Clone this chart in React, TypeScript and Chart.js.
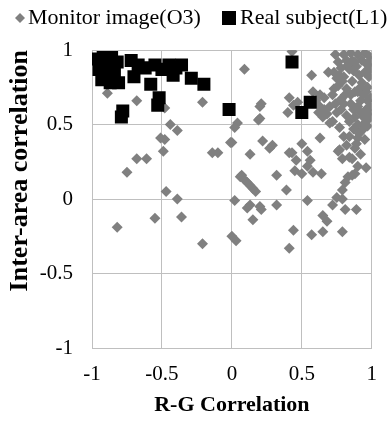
import React, { useEffect, useRef } from "react";
import { Chart, registerables } from "chart.js";

Chart.register(...registerables);

const seriesNames = ["Monitor image(O3)", "Real subject(L1)"];
const xTitle = "R-G Correlation";
const yTitle = "Inter-area correlation";
const tickValues = [-1, -0.5, 0, 0.5, 1];
const xTickLabels = ["-1", "-0.5", "0", "0.5", "1"];
const yTickLabels = ["-1", "-0.5", "0", "0.5", "1"];

// Monitor image (O3): gray diamonds, [R-G correlation, inter-area correlation]
const monitorLeft: [number, number][] = [
  [-0.89, 0.71], [-0.68, 0.66], [-0.21, 0.65], [-0.48, 0.61], [0.02, 0.48],
  [-0.44, 0.5], [-0.39, 0.46], [-0.51, 0.41], [-0.48, 0.4], [-0.49, 0.32],
  [-0.68, 0.27], [-0.61, 0.27], [-0.75, 0.18], [-0.14, 0.31], [-0.1, 0.31],
  [-0.01, 0.38], [0.06, 0.15], [-0.47, 0.05], [-0.39, 0.0], [0.02, -0.01],
  [-0.55, -0.13], [-0.36, -0.12], [-0.82, -0.19], [-0.21, -0.3], [0.0, -0.25],
  [0.03, -0.28],
];
const monitorMiddle: [number, number][] = [
  [0.09, 0.87], [0.21, 0.64], [0.2, 0.62], [0.2, 0.54], [0.04, 0.51],
  [0.19, 0.53], [0.0, 0.38], [0.22, 0.39], [0.27, 0.34], [0.29, 0.36],
  [0.13, 0.3], [0.32, 0.16], [0.07, 0.16], [0.09, 0.13], [0.11, 0.11],
  [0.13, 0.09], [0.15, 0.07], [0.17, 0.05], [0.13, -0.04], [0.2, -0.05],
  [0.11, -0.06], [0.21, -0.07], [0.15, -0.14], [0.32, -0.04], [0.44, -0.21],
  [0.41, -0.33], [0.39, 0.06],
];
const monitorLowerRight: [number, number][] = [
  [0.54, -0.01], [0.57, -0.24], [0.65, -0.22], [0.65, -0.11], [0.68, -0.15],
  [0.72, -0.04], [0.79, 0.0], [0.81, -0.07], [0.89, -0.07], [0.79, -0.22],
  [0.75, 0.01], [0.79, 0.06], [0.81, 0.11], [0.83, 0.15], [0.86, 0.16],
  [0.88, 0.17], [0.96, 0.21], [0.43, 0.31], [0.41, 0.31], [0.46, 0.26],
  [0.54, 0.32], [0.56, 0.26], [0.45, 0.19], [0.5, 0.17], [0.58, 0.18],
  [0.64, 0.17], [0.54, 0.22], [0.5, 0.37], [0.63, 0.41], [0.7, 0.51],
  [0.77, 0.48], [0.76, 0.32], [0.79, 0.27], [0.84, 0.28], [0.86, 0.27],
  [0.77, 0.33], [0.84, 0.42], [0.88, 0.34], [0.89, 0.37], [0.9, 0.41],
  [0.91, 0.44], [0.94, 0.5], [0.97, 0.49], [0.93, 0.46], [0.87, 0.47],
  [0.8, 0.42], [0.82, 0.36], [0.95, 0.4], [0.92, 0.3], [0.9, 0.22],
];
const monitorUpperRight: [number, number][] = [
  [0.43, 0.99], [0.57, 0.83], [0.69, 0.85], [0.41, 0.68], [0.4, 0.58],
  [0.47, 0.65], [0.44, 0.63], [0.58, 0.72], [0.63, 0.7], [0.66, 0.68],
  [0.62, 0.63], [0.66, 0.6], [0.65, 0.55], [0.72, 0.52],
  [0.8, 0.97], [0.85, 0.98], [0.9, 0.97], [0.95, 0.98], [0.98, 0.96],
  [0.82, 0.93], [0.88, 0.92], [0.93, 0.93], [0.97, 0.9], [0.78, 0.88],
  [0.84, 0.87], [0.95, 0.85], [0.98, 0.82], [0.8, 0.82], [0.86, 0.79],
  [0.93, 0.78], [0.97, 0.75], [0.76, 0.76], [0.82, 0.74], [0.88, 0.72],
  [0.94, 0.7], [0.99, 0.68], [0.72, 0.7], [0.78, 0.67], [0.85, 0.64],
  [0.9, 0.62], [0.96, 0.6], [0.7, 0.62], [0.75, 0.58], [0.82, 0.56],
  [0.88, 0.55], [0.94, 0.55], [0.97, 0.66], [0.98, 0.58], [0.96, 0.52],
  [0.78, 0.6], [0.92, 0.66], [0.74, 0.97], [0.76, 0.92], [0.73, 0.85],
  [0.75, 0.81], [0.73, 0.74], [0.79, 0.79], [0.83, 0.9], [0.87, 0.86],
  [0.91, 0.83], [0.89, 0.89], [0.99, 0.93], [0.99, 0.87], [0.92, 0.75],
  [0.9, 0.72], [0.85, 0.7], [0.81, 0.7], [0.8, 0.64], [0.87, 0.6],
  [0.92, 0.58], [0.99, 0.62], [0.99, 0.55], [0.84, 0.52], [0.9, 0.5],
  [0.68, 0.57], [0.62, 0.58], [0.6, 0.66], [0.74, 0.64], [0.96, 0.72],
  [0.86, 0.93], [0.77, 0.83],
];

// Real subject (L1): black squares
const realSubject: [number, number][] = [
  [-0.97, 0.94], [-0.92, 0.95], [-0.86, 0.95], [-0.82, 0.92], [-0.95, 0.87],
  [-0.9, 0.88], [-0.84, 0.85], [-0.93, 0.8], [-0.87, 0.78], [-0.81, 0.78],
  [-0.9, 0.84], [-0.72, 0.93], [-0.67, 0.9], [-0.7, 0.82], [-0.62, 0.88],
  [-0.58, 0.77], [-0.55, 0.9], [-0.5, 0.87], [-0.52, 0.68], [-0.53, 0.63],
  [-0.45, 0.9], [-0.4, 0.88], [-0.36, 0.9], [-0.42, 0.83], [-0.29, 0.81],
  [-0.2, 0.77], [-0.78, 0.59], [-0.79, 0.55], [-0.02, 0.6], [0.43, 0.92],
  [0.56, 0.65], [0.5, 0.58],
];

const GRAY = "#808080";
const GRID = "#bfbfbf";
const FONT = "'Liberation Serif', 'Times New Roman', serif";

// Legend drawn on the chart canvas (marker + label for each series)
const legendPlugin = {
  id: "seriesLegend",
  afterDraw(chart: any) {
    const ctx = chart.ctx as CanvasRenderingContext2D;
    ctx.save();
    ctx.font = `22px ${FONT}`;
    ctx.textBaseline = "middle";
    ctx.textAlign = "left";
    ctx.fillStyle = "#000";
    const cy = 18;
    // Monitor image: gray diamond
    ctx.fillStyle = GRAY;
    ctx.beginPath();
    ctx.moveTo(20, cy - 5);
    ctx.lineTo(25, cy);
    ctx.lineTo(20, cy + 5);
    ctx.lineTo(15, cy);
    ctx.closePath();
    ctx.fill();
    ctx.fillStyle = "#000";
    ctx.fillText(seriesNames[0], 28, cy);
    // Real subject: black square
    ctx.fillRect(222, cy - 7, 14, 14);
    ctx.fillText(seriesNames[1], 240, cy);
    ctx.restore();
  },
};

export default function App() {
  const ref = useRef<HTMLCanvasElement>(null);

  useEffect(() => {
    document.body.style.margin = "0";
    const canvas = ref.current!;
    const monitor = [...monitorLeft, ...monitorMiddle, ...monitorLowerRight, ...monitorUpperRight];

    const tickCb = (labels: string[]) => (v: any) => {
      const i = tickValues.indexOf(Number(v));
      return i >= 0 ? labels[i] : "";
    };

    const chart = new Chart(canvas, {
      type: "scatter",
      data: {
        datasets: [
          {
            label: seriesNames[1],
            data: realSubject.map(([x, y]) => ({ x, y })),
            pointStyle: "rect",
            pointRadius: 9.2,
            pointHoverRadius: 9.2,
            backgroundColor: "#000",
            borderWidth: 0,
          },
          {
            label: seriesNames[0],
            data: monitor.map(([x, y]) => ({ x, y })),
            pointStyle: "rectRot",
            pointRadius: 5.5,
            pointHoverRadius: 5.5,
            backgroundColor: GRAY,
            borderWidth: 0,
          },
        ],
      },
      plugins: [legendPlugin],
      options: {
        responsive: false,
        animation: false,
        devicePixelRatio: 1,
        layout: { padding: { top: 0, left: 0, right: 0, bottom: 0 } },
        plugins: {
          tooltip: { enabled: false },
          legend: { display: false },
        },
        scales: {
          x: {
            type: "linear",
            position: "bottom",
            min: -1,
            max: 1,
            afterBuildTicks: (s: any) => {
              s.ticks = tickValues.map((v) => ({ value: v }));
            },
            afterFit: (s: any) => {
              s.height = 75;
            },
            ticks: {
              padding: 14,
              color: "#000",
              font: { family: FONT, size: 21 },
              callback: tickCb(xTickLabels),
              maxRotation: 0,
            },
            grid: { color: GRID, lineWidth: 1, drawTicks: false },
            border: { color: GRID },
            title: {
              display: true,
              text: xTitle,
              color: "#000",
              font: { family: FONT, size: 22, weight: "bold" },
              padding: { top: 0, bottom: 4 },
            },
          },
          y: {
            type: "linear",
            position: "left",
            min: -1,
            max: 1,
            afterBuildTicks: (s: any) => {
              s.ticks = tickValues.map((v) => ({ value: v }));
            },
            afterFit: (s: any) => {
              s.width = 92;
            },
            ticks: {
              padding: 19,
              color: "#000",
              font: { family: FONT, size: 21 },
              callback: tickCb(yTickLabels),
            },
            grid: { color: GRID, lineWidth: 1, drawTicks: false },
            border: { color: GRID },
            title: {
              display: true,
              text: yTitle,
              align: "end",
              color: "#000",
              font: { family: FONT, size: 26, weight: "bold" },
              padding: { top: 5, bottom: 0 },
            },
          },
          yRight: {
            type: "linear",
            position: "right",
            display: true,
            grid: { display: false },
            border: { display: false },
            ticks: { display: false },
            afterFit: (s: any) => {
              s.width = 19;
            },
          },
          xTop: {
            type: "linear",
            position: "top",
            display: true,
            grid: { display: false },
            border: { display: false },
            ticks: { display: false },
            afterFit: (s: any) => {
              s.height = 50;
            },
          },
        },
      },
    } as any);

    return () => chart.destroy();
  }, []);

  return (
    <div style={{ width: 391, height: 423 }}>
      <canvas ref={ref} width={391} height={423} style={{ display: "block" }} />
    </div>
  );
}
